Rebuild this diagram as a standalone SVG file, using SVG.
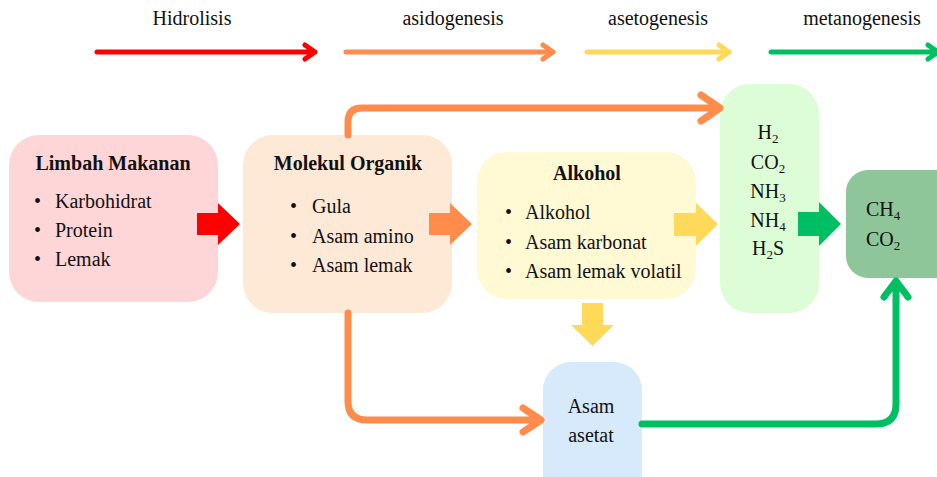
<svg xmlns="http://www.w3.org/2000/svg" width="937" height="477" viewBox="0 0 937 477">
<style>
text{font-family:'Liberation Serif','Times New Roman','DejaVu Serif',serif;font-size:20px;fill:#111;}
.b{font-weight:bold;}
.m{text-anchor:middle;}
.s{font-size:13px;}
.ln{fill:none;stroke-linecap:round;stroke-linejoin:round;}
.top{stroke-width:5;}
.con{stroke-width:7;}
</style>
<rect width="937" height="477" fill="#ffffff"/>
<g id="stages" font-family="Liberation Serif, serif">
<text class="m" x="192" y="25">Hidrolisis</text>
<text class="m" x="453" y="25">asidogenesis</text>
<text class="m" x="658" y="25">asetogenesis</text>
<text class="m" x="862" y="25">metanogenesis</text>
<path class="ln top" stroke="#ff0000" d="M97,52 H315 M305,45 L315,52 L305,59"/>
<path class="ln top" stroke="#ff8c4b" d="M346,52 H553 M543,45 L553,52 L543,59"/>
<path class="ln top" stroke="#ffd95a" d="M587,52 H729 M719,45 L729,52 L719,59"/>
<path class="ln top" stroke="#00bf63" d="M771,52 H938 M928,45 L938,52 L928,59"/>
</g>
<g id="limbah">
<rect x="9" y="135" width="209" height="167" rx="30" fill="#ffd6d8"/>
<text class="b m" x="113" y="170">Limbah Makanan</text>
<text x="34" y="208">•</text><text x="55" y="208">Karbohidrat</text>
<text x="34" y="237">•</text><text x="55" y="237">Protein</text>
<text x="34" y="266">•</text><text x="55" y="266">Lemak</text>
</g>
<g id="molekul">
<rect x="243" y="135" width="209" height="178" rx="30" fill="#fee9d7"/>
<text class="b m" x="348" y="170">Molekul Organik</text>
<text x="290" y="213">•</text><text x="312" y="213">Gula</text>
<text x="290" y="243">•</text><text x="312" y="243">Asam amino</text>
<text x="290" y="272">•</text><text x="312" y="272">Asam lemak</text>
</g>
<g id="alkohol">
<rect x="477" y="152" width="219" height="147" rx="30" fill="#fff9d4"/>
<text class="b m" x="587" y="180">Alkohol</text>
<text x="505" y="219">•</text><text x="525" y="219">Alkohol</text>
<text x="505" y="249">•</text><text x="525" y="249">Asam karbonat</text>
<text x="505" y="278">•</text><text x="525" y="278">Asam lemak volatil</text>
</g>
<g id="gas">
<rect x="720" y="84" width="99" height="229" rx="30" fill="#dcfdd5"/>
<text class="m" x="768" y="139">H<tspan class="s" dy="4">2</tspan></text>
<text class="m" x="768" y="169">CO<tspan class="s" dy="4">2</tspan></text>
<text class="m" x="768" y="198">NH<tspan class="s" dy="4">3</tspan></text>
<text class="m" x="768" y="227">NH<tspan class="s" dy="4">4</tspan></text>
<text class="m" x="768" y="255">H<tspan class="s" dy="4">2</tspan><tspan dy="-4">S</tspan></text>
</g>
<g id="metana">
<rect x="846" y="170" width="120" height="108" rx="22" fill="#8ec69a"/>
<text x="866" y="216">CH<tspan class="s" dy="4">4</tspan></text>
<text x="866" y="246">CO<tspan class="s" dy="4">2</tspan></text>
</g>
<g id="asetat">
<rect x="543" y="362" width="99" height="140" rx="28" fill="#d6eafc"/>
<text class="m" x="591" y="413">Asam</text>
<text class="m" x="591" y="442">asetat</text>
</g>
<g id="connectors">
<polygon points="197,213 218,213 218,203 240,224 218,245 218,235 197,235" fill="#ff0000"/>
<polygon points="429,213 450,213 450,203 472,224 450,245 450,235 429,235" fill="#ff8c4b"/>
<polygon points="674,213 696,213 696,203 718,224 696,246 696,236 674,236" fill="#ffd95a"/>
<polygon points="798,212 819,212 819,202 841,224 819,246 819,236 798,236" fill="#00bf63"/>
<polygon points="582,303 603,303 603,325 614,325 592.5,346 571,325 582,325" fill="#ffd95a"/>
<path class="ln con" stroke="#ff8c4b" d="M348,135 V122 Q348,108 362,108 H719 M701,95 L720,108 L701,121"/>
<path class="ln con" stroke="#ff8c4b" d="M348,313 V401 Q348,420 367,420 H540 M523,408 L541,420 L523,432"/>
<path class="ln con" stroke="#00bf63" d="M642,424 H876 Q896,424 896,404 V281 M884,297 L896,281 L908,297"/>
</g>
</svg>
